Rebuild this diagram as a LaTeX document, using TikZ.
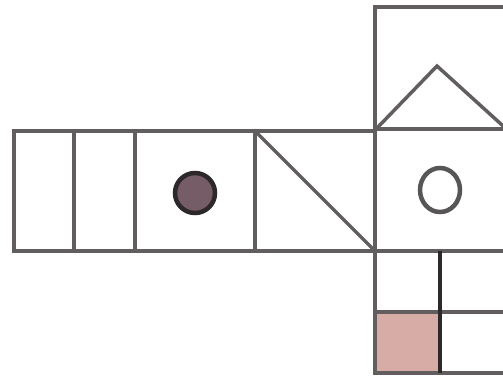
\documentclass[tikz,border=0pt]{standalone}
\begin{document}
\begin{tikzpicture}[x=1bp,y=-1bp,
  edge/.style={draw=linegray,line width=3.5bp,line cap=rect}]
\definecolor{linegray}{RGB}{98,94,96}
\definecolor{darkline}{RGB}{45,40,42}
\definecolor{dotfill}{RGB}{118,92,102}
\definecolor{pinkfill}{RGB}{216,172,166}
\path[use as bounding box,fill=white] (0,0) rectangle (503,381);
% pink cell
\fill[pinkfill] (377,312) rectangle (440,373);
% left strip
\draw[edge] (14,131) rectangle (375,251);
\draw[edge] (74,131) -- (74,251);
\draw[edge] (135,131) -- (135,251);
\draw[edge] (255,131) -- (255,251);
\draw[edge] (255,131) -- (375,251);
\node[circle,draw=darkline,line width=4.5bp,fill=dotfill,minimum size=40bp,inner sep=0] (dot) at (195,193) {};
% top box
\draw[edge] (375,129) -- (375,7) -- (503,7);
\draw[edge] (375,129) -- (503,129);
\draw[edge] (378,127) -- (437,66) -- (502,125);
% middle square
\draw[edge] (375,251) -- (503,251);
\draw[draw=linegray!90!black,line width=4.5bp] (440,190) ellipse [x radius=20bp,y radius=22bp];
% bottom block
\draw[edge] (375,251) -- (375,373) -- (503,373);
\draw[edge] (375,312) -- (503,312);
\draw[draw=darkline,line width=3.2bp] (440,251) -- (440,373);
\end{tikzpicture}
\end{document}
